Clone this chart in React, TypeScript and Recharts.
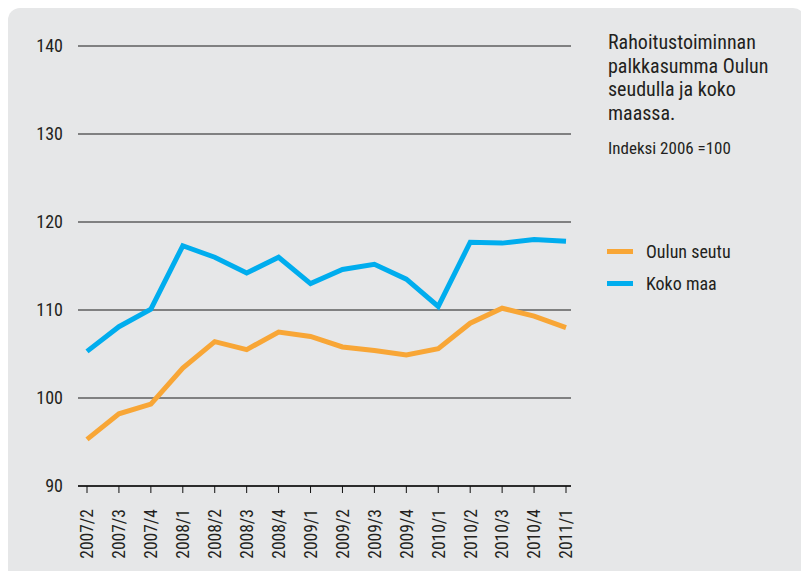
import React from 'react'
import { LineChart, Line, XAxis, YAxis, CartesianGrid } from 'recharts'

const quarters = [
  '2007/2', '2007/3', '2007/4', '2008/1', '2008/2', '2008/3', '2008/4', '2009/1',
  '2009/2', '2009/3', '2009/4', '2010/1', '2010/2', '2010/3', '2010/4', '2011/1',
]
const oulunSeutu = [95.3, 98.2, 99.3, 103.4, 106.4, 105.5, 107.5, 107.0, 105.8, 105.4, 104.9, 105.6, 108.5, 110.2, 109.3, 108.0]
const kokoMaa = [105.3, 108.1, 110.1, 117.3, 116.0, 114.2, 116.0, 113.0, 114.6, 115.2, 113.5, 110.4, 117.7, 117.6, 118.0, 117.8]
const yTicks = [90, 100, 110, 120, 130, 140]

const ORANGE = '#f8a636'
const BLUE = '#00adee'
const TEXT = '#231f20'
const FONT = "'Roboto Condensed', 'Liberation Sans', sans-serif"

const data = quarters.map((q, i) => ({ q, oulu: oulunSeutu[i], koko: kokoMaa[i] }))

const legendItems = [
  { name: 'Oulun seutu', color: ORANGE },
  { name: 'Koko maa', color: BLUE },
]

const XTick = ({ x, y, payload }: { x?: number; y?: number; payload?: { value: string } }) => (
  <g transform={`translate(${x},${y})`}>
    <text transform="rotate(-90)" x={-16} y={0} dy="0.36em" textAnchor="end"
      fill={TEXT} fontSize={17.5} fontFamily={FONT}>
      {payload?.value}
    </text>
  </g>
)

export default function App() {
  return (
    <div style={{
      position: 'relative', width: 797, height: 563, background: '#e6e7e8',
      borderRadius: '12px 12px 0 0', overflow: 'hidden',
    }}>
      {/* otsikko */}
      <div style={{ position: 'absolute', left: 600, top: 23, fontFamily: FONT, color: TEXT }}>
        <div style={{ fontSize: 20, lineHeight: '23.5px' }}>
          Rahoitustoiminnan<br />palkkasumma Oulun<br />seudulla ja koko<br />maassa.
        </div>
        <div style={{ fontSize: 17, lineHeight: '22px', marginTop: 12 }}>Indeksi 2006 =100</div>
      </div>
      {/* selite */}
      <div style={{ position: 'absolute', left: 599, top: 227, fontFamily: FONT, fontSize: 18, color: TEXT }}>
        {legendItems.map(it => (
          <div key={it.name} style={{ display: 'flex', alignItems: 'center', height: 32.5 }}>
            <span style={{ width: 26, height: 5, background: it.color, display: 'inline-block', marginRight: 13 }} />
            <span>{it.name}</span>
          </div>
        ))}
      </div>
      <LineChart width={797} height={563} data={data}
        margin={{ top: 38, right: 234, bottom: 0, left: 0 }}>
        <CartesianGrid vertical={false} stroke="#1a1a1a" strokeWidth={1} />
        <XAxis dataKey="q" interval={0} height={85} tickSize={7} tickMargin={0}
          padding={{ left: 9, right: 5 }}
          axisLine={{ stroke: '#111', strokeWidth: 1.5 }} tickLine={{ stroke: '#111' }}
          tick={<XTick />} />
        <YAxis domain={[90, 140]} ticks={yTicks} width={70} axisLine={false} tickLine={false}
          tickMargin={9} tick={{ fill: TEXT, fontSize: 18, fontFamily: FONT }} />
        <Line dataKey="oulu" name="Oulun seutu" stroke={ORANGE} strokeWidth={5}
          dot={false} isAnimationActive={false} />
        <Line dataKey="koko" name="Koko maa" stroke={BLUE} strokeWidth={5}
          dot={false} isAnimationActive={false} />
      </LineChart>
    </div>
  )
}
